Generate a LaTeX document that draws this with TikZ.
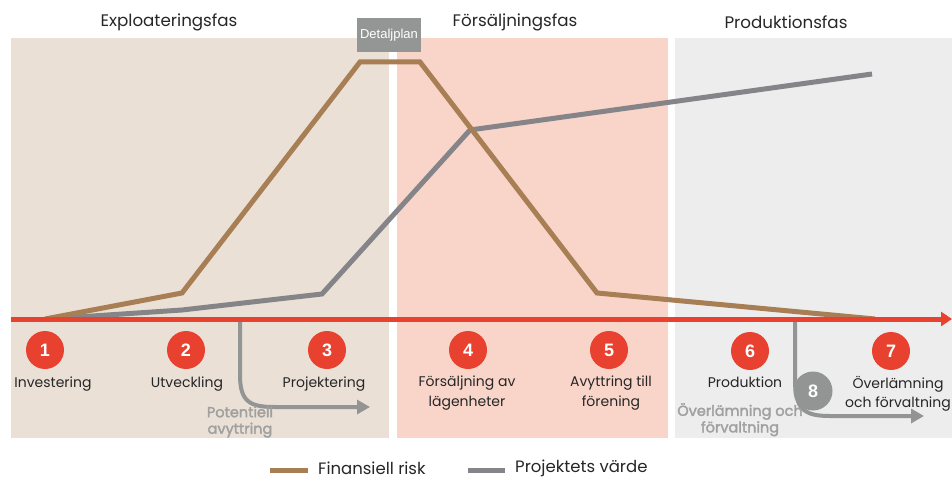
\documentclass[tikz,border=0pt]{standalone}
\usepackage{fontspec}
\setmainfont{Poppins}
\newfontfamily\mediumfont{Poppins}[FakeBold=2.2]
\newfontfamily\arialfont{Liberation Sans}
\usetikzlibrary{arrows.meta}

\definecolor{phaseA}{HTML}{EAE0D6}
\definecolor{phaseB}{HTML}{F9D5C9}
\definecolor{phaseC}{HTML}{EDEDED}
\definecolor{axisred}{HTML}{E8412F}
\definecolor{riskbrown}{HTML}{A87E55}
\definecolor{valuegray}{HTML}{858589}
\definecolor{sidegray}{HTML}{939595}
\definecolor{sidetext}{HTML}{A0A0A0}
\definecolor{tagbox}{HTML}{949696}

\tikzset{
  phasetitle/.style={font=\fontsize{16.7}{20}\selectfont, text=black!85, inner sep=0},
  stepdot/.style={circle, fill=axisred, minimum size=38pt, inner sep=0,
    text=white, font=\arialfont\bfseries\fontsize{18}{20}\selectfont},
  sidedot/.style={circle, fill=sidegray, minimum size=39pt, inner sep=0,
    text=white, font=\arialfont\bfseries\fontsize{18}{20}\selectfont},
  steplabel/.style={font=\fontsize{14}{19.5}\selectfont, text=black!85,
    align=center, inner sep=0, anchor=north},
  sidelabel/.style={font=\mediumfont\fontsize{14.5}{16.5}\selectfont, text=sidetext,
    align=center, inner sep=0, anchor=north},
  riskline/.style={draw=riskbrown, line width=5pt},
  valueline/.style={draw=valuegray, line width=5pt},
  sidearrow/.style={draw=sidegray, line width=4pt,
    -{Triangle[length=13pt,width=14pt]}},
  legendtext/.style={font=\fontsize{16.5}{20}\selectfont, text=black!85, inner sep=0, anchor=west}
}

\begin{document}
\begin{tikzpicture}[x=1pt, y=-1pt]
  \useasboundingbox (0,0) rectangle (952,478);

  % phase panels
  \fill[phaseA] (11,38) rectangle (389,438);
  \fill[phaseB] (397,38) rectangle (668,438);
  \fill[phaseC] (675,38) rectangle (952,438);

  % phase titles
  \node[phasetitle] (tA) at (169,22) {Exploateringsfas};
  \node[phasetitle] (tB) at (515,22) {Försäljningsfas};
  \node[phasetitle] (tC) at (786,22) {Produktionsfas};

  % curve vertices
  \coordinate (r0) at (45,319);
  \coordinate (r1) at (182,293);
  \coordinate (r2) at (360,62);
  \coordinate (r3) at (420,62);
  \coordinate (r4) at (597,293);
  \coordinate (r5) at (875,319);

  \coordinate (v0) at (48,319);
  \coordinate (v1) at (182,310);
  \coordinate (v2) at (322,294);
  \coordinate (v3) at (470,130);
  \coordinate (v4) at (872,74);

  % project value and financial risk
  \draw[valueline] (v0) -- (v1) -- (v2) -- (v3) -- (v4);
  \draw[riskline] (r0) -- (r1) -- (r2) -- (r3) -- (r4) -- (r5);

  % side exits
  \coordinate (s1) at (240,319);
  \coordinate (e1) at (370,407);
  \draw[sidearrow] (s1) -- (240,375) .. controls (240,402) and (250,407) .. (275,407) -- (e1);
  \coordinate (s2) at (795,319);
  \coordinate (e2) at (924,416);
  \draw[sidearrow] (s2) -- (795,380) .. controls (795,410) and (805,416) .. (830,416) -- (e2);

  % time axis
  \coordinate (ax0) at (11,319);
  \coordinate (ax1) at (952,319);
  \draw[draw=axisred, line width=5pt, -{Triangle[length=11pt,width=14pt]}] (ax0) -- (ax1);

  % detail plan tag
  \node[fill=tagbox, text=white, minimum width=64pt, minimum height=34pt, inner sep=0,
    font=\arialfont\fontsize{13}{15}\selectfont] (tag) at (389,35) {Detaljplan};

  % steps
  \node[stepdot] (n1) at (45,350) {1};
  \node[stepdot] (n2) at (186,350) {2};
  \node[stepdot] (n3) at (327,350) {3};
  \node[stepdot] (n4) at (468,350) {4};
  \node[stepdot] (n5) at (609,350) {5};
  \node[stepdot] (n6) at (750,351) {6};
  \node[stepdot] (n7) at (891,351) {7};
  \node[sidedot] (n8) at (813,391) {8};

  \node[steplabel] (l1) at (53,377) {Investering};
  \node[steplabel] (l2) at (187,377) {Utveckling};
  \node[steplabel] (l3) at (324,377) {Projektering};
  \node[steplabel] (l4) at (467,376) {Försäljning av\\lägenheter};
  \node[steplabel] (l5) at (611,376) {Avyttring till\\förening};
  \node[steplabel] (l6) at (745,377) {Produktion};
  \node[steplabel] (l7) at (898,376) {Överlämning\\och förvaltning};

  \node[sidelabel] (p1) at (240,406) {Potentiell\\avyttring};
  \node[sidelabel] (p2) at (740,403) {Överlämning och\\förvaltning};

  % legend
  \coordinate (k1a) at (270,470);
  \coordinate (k1b) at (308,470);
  \coordinate (k2a) at (468,470);
  \coordinate (k2b) at (505,470);
  \draw[riskline] (k1a) -- (k1b);
  \draw[valueline] (k2a) -- (k2b);
  \node[legendtext] (k1) at (318,468) {Finansiell risk};
  \node[legendtext] (k2) at (515,468) {Projektets värde};
\end{tikzpicture}
\end{document}
